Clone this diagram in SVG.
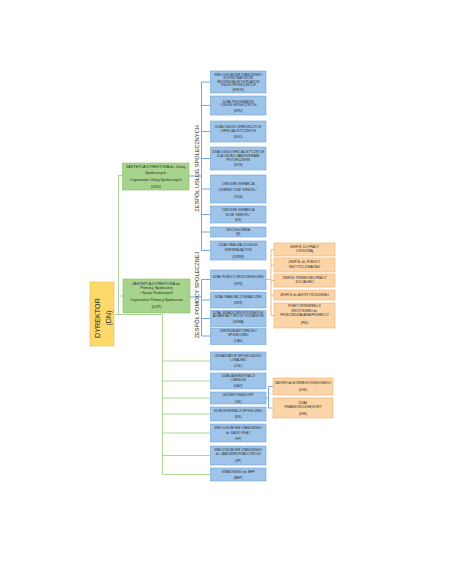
<svg xmlns="http://www.w3.org/2000/svg" width="449" height="563" viewBox="0 0 449 563">
<style>
.bg{fill:#ffffff}
.b{fill:#9ec4ea;stroke:#6fa3d8;stroke-width:0.6}
.g{fill:#a6d48c;stroke:#86bd6a;stroke-width:0.6}
.o{fill:#fbd4a7;stroke:#f0ad69;stroke-width:0.6}
.y{fill:#fcd96a;stroke:#e2bd4e;stroke-width:0.6}
text{font-family:"Liberation Sans",Arial,sans-serif;fill:#2a2a2a;text-anchor:middle}
.t{font-size:3.1px}
.tg{font-size:3.7px}
.tt{font-size:5.6px}
.td{font-size:7.2px}
.lb{stroke:#4f92d4;stroke-width:0.8;fill:none}
.lg{stroke:#9acb7b;stroke-width:0.8;fill:none}
.lo{stroke:#efa45c;stroke-width:0.8;fill:none}
</style>
<rect class="bg" x="0" y="0" width="449" height="563"/>

<g id="connectors">
  <!-- green -->
  <path class="lg" d="M118.5,175.5 V314.5 M118.5,175.5 H122.5 M118.5,296 H123 M114,314.5 H162.5 V474.5"/>
  <path class="lg" d="M162.5,361 H210.5 M162.5,381 H210.5 M162.5,398 H210.5 M162.5,414 H210.5 M162.5,433 H210.5 M162.5,455.5 H210.5 M162.5,474.5 H210.5"/>
  <!-- blue: usług -->
  <path class="lb" d="M189,176 H201.5 M201.5,82 V250.5"/>
  <path class="lb" d="M201.5,82 H210.5 M201.5,105.5 H210.5 M201.5,131.5 H210.5 M201.5,158.5 H210.5 M201.5,189 H210.5 M201.5,214.5 H210.5 M201.5,232 H210.5 M201.5,250.5 H210.5"/>
  <!-- blue: pomocy -->
  <path class="lb" d="M190,297 H201.5 M201.5,279.5 V336"/>
  <path class="lb" d="M201.5,279.5 H210.5 M201.5,300 H210.5 M201.5,318.5 H210.5 M201.5,336 H210.5"/>
  <!-- blue: GK -->
  <path class="lb" d="M266,398 H268.5 M268.5,386.5 V408 M268.5,386.5 H273 M268.5,408 H273"/>
  <!-- orange: DPS -->
  <path class="lo" d="M266,279.5 H271 M271,249.5 V315.5 M271,249.5 H274 M271,265 H274 M271,280.5 H274 M271,295 H274 M271,315.5 H274"/>
</g>

<g id="DN">
  <rect class="y" x="90" y="282" width="24" height="64"/>
  <text class="td" transform="translate(100,318) rotate(-90)">DYREKTOR</text>
  <text class="td" transform="translate(110.5,318) rotate(-90)">(DN)</text>
</g>

<g id="DZU">
  <rect class="g" x="122.5" y="163" width="66.5" height="27"/>
  <text class="tg" x="155.7" y="167.8">ZASTĘPCA DYREKTORA ds. Usług</text>
  <text class="tg" x="155.7" y="173.6">Społecznych</text>
  <text class="tg" x="155.7" y="181">Organizator Usług Społecznych</text>
  <text class="tg" x="155.7" y="188">(DZU)</text>
</g>

<g id="DZP">
  <rect class="g" x="123" y="279" width="67" height="34"/>
  <text class="tg" x="156.5" y="284.5">ZASTĘPCA DYREKTORA ds.</text>
  <text class="tg" x="156.5" y="289">Pomocy Społecznej</text>
  <text class="tg" x="156.5" y="293.5">i Spraw Rodzinnych</text>
  <text class="tg" x="156.5" y="300.5">Organizator Pomocy Społecznej</text>
  <text class="tg" x="156.5" y="307.8">(DZP)</text>
</g>

<g id="label-ZUS">
  <text class="tt" transform="translate(199,168.5) rotate(-90)">ZESPÓŁ USŁUG SPOŁECZNYCH</text>
</g>
<g id="label-ZPS">
  <text class="tt" transform="translate(199,295) rotate(-90)">ZESPÓŁ POMOCY SPOŁECZNEJ</text>
</g>

<g id="KIPUS">
  <rect class="b" x="210.5" y="71" width="55.5" height="22"/>
  <text class="t" x="238.2" y="75.5">WIELOOSOBOWE STANOWISKO</text>
  <text class="t" x="238.2" y="79.1">KOORDYNATORÓW</text>
  <text class="t" x="238.2" y="82.7">INDYWIDUALNYCH PLANÓW</text>
  <text class="t" x="238.2" y="86.3">USŁUG SPOŁECZNYCH</text>
  <text class="t" x="238.2" y="90.7">(KIPUS)</text>
</g>
<g id="DPU">
  <rect class="b" x="210.5" y="96" width="55.5" height="19"/>
  <text class="t" x="238.2" y="102.6">DZIAŁ PROGRAMÓW</text>
  <text class="t" x="238.2" y="106.3">I USŁUG SPOŁECZNYCH</text>
  <text class="t" x="238.2" y="112.2">(DPU)</text>
</g>
<g id="DUO">
  <rect class="b" x="210.5" y="121" width="55.5" height="21"/>
  <text class="t" x="238.2" y="128.1">DZIAŁ USŁUG OPIEKUŃCZYCH</text>
  <text class="t" x="238.2" y="131.7">I SPECJALISTYCZNYCH</text>
  <text class="t" x="238.2" y="137.7">(DUO)</text>
</g>
<g id="DUS">
  <rect class="b" x="210.5" y="147" width="55.5" height="23"/>
  <text class="t" x="238.2" y="153.3" textLength="52" lengthAdjust="spacingAndGlyphs">DZIAŁ USŁUG SPECJALISTYCZNYCH</text>
  <text class="t" x="238.2" y="156.9">DLA OSÓB Z ZABURZENIAMI</text>
  <text class="t" x="238.2" y="160.5">PSYCHICZNYMI</text>
  <text class="t" x="238.2" y="166.2">(DUS)</text>
</g>
<g id="ODS">
  <rect class="b" x="210.5" y="175" width="55.5" height="28"/>
  <text class="t" x="238.2" y="185.1">OŚRODEK WSPARCIA</text>
  <text class="t" x="238.2" y="191.1">DZIENNY DOM "SENIOR+"</text>
  <text class="t" x="238.2" y="197.6">(ODS)</text>
</g>
<g id="KS">
  <rect class="b" x="210.5" y="206" width="55.5" height="17"/>
  <text class="t" x="238.2" y="210.6">OŚRODEK WSPARCIA</text>
  <text class="t" x="238.2" y="215.5">KLUB "SENIOR+"</text>
  <text class="t" x="238.2" y="221">(KS)</text>
</g>
<g id="N">
  <rect class="b" x="210.5" y="227" width="55.5" height="10"/>
  <text class="t" x="238.2" y="231.1">NOCLEGOWNIA</text>
  <text class="t" x="238.2" y="235.4">(N)</text>
</g>
<g id="DURW">
  <rect class="b" x="210.5" y="241" width="55.5" height="19"/>
  <text class="t" x="238.2" y="246.1">DZIAŁ REALIZACJI USŁUG</text>
  <text class="t" x="238.2" y="251.1">WSPIERAJĄCYCH</text>
  <text class="t" x="238.2" y="257.6">(DURW)</text>
</g>
<g id="DPS">
  <rect class="b" x="210.5" y="270" width="55.5" height="19.5"/>
  <text class="t" x="238.2" y="277.8" textLength="51" lengthAdjust="spacingAndGlyphs">DZIAŁ POMOCY ŚRODOWISKOWEJ</text>
  <text class="t" x="238.2" y="285.1">(DPŚ)</text>
</g>
<g id="DRS">
  <rect class="b" x="210.5" y="292" width="55.5" height="16"/>
  <text class="t" x="238.2" y="297.8">DZIAŁ REALIZACJI ŚWIADCZEŃ</text>
  <text class="t" x="238.2" y="304.4">(DRŚ)</text>
</g>
<g id="DSRA">
  <rect class="b" x="210.5" y="310.5" width="55.5" height="16.5"/>
  <text class="t" x="238.2" y="314" textLength="51" lengthAdjust="spacingAndGlyphs">DZIAŁ ŚWIADCZEŃ RODZINNYCH,</text>
  <text class="t" x="238.2" y="317.4" textLength="51" lengthAdjust="spacingAndGlyphs">ALIMENTACYJNYCH I DODATKÓW</text>
  <text class="t" x="238.2" y="323">(DŚRA)</text>
</g>
<g id="CAS">
  <rect class="b" x="210.5" y="328.5" width="55.5" height="16"/>
  <text class="t" x="238.2" y="332">CENTRUM AKTYWNOŚCI</text>
  <text class="t" x="238.2" y="336.2">SPOŁECZNEJ</text>
  <text class="t" x="238.2" y="342.2">(CAS)</text>
</g>

<g id="OSL">
  <rect class="b" x="210.5" y="352" width="55.5" height="18"/>
  <text class="t" x="238.2" y="357.1">ORGANIZATOR SPOŁECZNOŚCI</text>
  <text class="t" x="238.2" y="361.1">LOKALNEJ</text>
  <text class="t" x="238.2" y="366.8">(OSL)</text>
</g>
<g id="DAO">
  <rect class="b" x="210.5" y="373" width="55.5" height="16"/>
  <text class="t" x="238.2" y="377.1">DZIAŁ ADMINISTRACJI</text>
  <text class="t" x="238.2" y="381.1">I OBSŁUGI</text>
  <text class="t" x="238.2" y="387">(DAO)</text>
</g>
<g id="GK">
  <rect class="b" x="210.5" y="392" width="55.5" height="12"/>
  <text class="t" x="238.2" y="396.2">GŁÓWNY KSIĘGOWY</text>
  <text class="t" x="238.2" y="402.6">(GK)</text>
</g>
<g id="KIS">
  <rect class="b" x="210.5" y="407" width="55.5" height="14"/>
  <text class="t" x="238.2" y="412.1">KLUB INTEGRACJI SPOŁECZNEJ</text>
  <text class="t" x="238.2" y="418.4">(KIS)</text>
</g>
<g id="SP">
  <rect class="b" x="210.5" y="424" width="55.5" height="18"/>
  <text class="t" x="238.2" y="429.4">WIELOOSOBOWE STANOWISKO</text>
  <text class="t" x="238.2" y="434.4">ds. KADR I PŁAC</text>
  <text class="t" x="238.2" y="440">(SP)</text>
</g>
<g id="ZP">
  <rect class="b" x="210.5" y="446" width="55.5" height="19"/>
  <text class="t" x="238.2" y="451.1">WIELOOSOBOWE STANOWISKO</text>
  <text class="t" x="238.2" y="455.4">ds. ZAMÓWIEŃ PUBLICZNYCH</text>
  <text class="t" x="238.2" y="462">(ZP)</text>
</g>
<g id="BHP">
  <rect class="b" x="210.5" y="468" width="55.5" height="13"/>
  <text class="t" x="238.2" y="472.8">STANOWISKO ds. BHP</text>
  <text class="t" x="238.2" y="478.6">(BHP)</text>
</g>

<g id="ZGK">
  <rect class="o" x="273" y="378" width="60" height="17"/>
  <text class="t" x="303" y="384.4" textLength="56" lengthAdjust="spacingAndGlyphs">ZASTĘPCA GŁÓWNEGO KSIĘGOWEGO</text>
  <text class="t" x="303" y="391.1">(ZGK)</text>
</g>
<g id="DFK">
  <rect class="o" x="273" y="398" width="60" height="20"/>
  <text class="t" x="303" y="403.8">DZIAŁ</text>
  <text class="t" x="303" y="407.8">FINANSOWO-KSIĘGOWY</text>
  <text class="t" x="303" y="415.2">(DFK)</text>
</g>

<g id="ZPR">
  <rect class="o" x="274" y="243" width="61" height="13"/>
  <text class="t" x="304.5" y="248">ZESPÓŁ DO PRACY</text>
  <text class="t" x="304.5" y="252.3">Z RODZINĄ</text>
</g>
<g id="ZPI">
  <rect class="o" x="274" y="258" width="61" height="14"/>
  <text class="t" x="304.5" y="262.8">ZESPÓŁ ds. POMOCY</text>
  <text class="t" x="304.5" y="267.6">INSTYTUCJONALNEJ</text>
</g>
<g id="ZTPS">
  <rect class="o" x="274" y="274" width="61" height="13"/>
  <text class="t" x="304.5" y="278.8">ZESPÓŁ TERENOWEJ PRACY</text>
  <text class="t" x="304.5" y="283.4">SOCJALNEJ</text>
</g>
<g id="ZAR">
  <rect class="o" x="274" y="290" width="61" height="10"/>
  <text class="t" x="304.5" y="296.1">ZESPÓŁ ds. ASYSTY RODZINNEJ</text>
</g>
<g id="PIK">
  <rect class="o" x="274" y="303" width="61" height="25"/>
  <text class="t" x="304.5" y="307.3">PUNKT INTERWENCJI</text>
  <text class="t" x="304.5" y="311.5">KRYZYSOWEJ ds.</text>
  <text class="t" x="304.5" y="316">PRZECIWDZIAŁANIA PRZEMOCY</text>
  <text class="t" x="304.5" y="324.2">(PIK)</text>
</g>
</svg>
